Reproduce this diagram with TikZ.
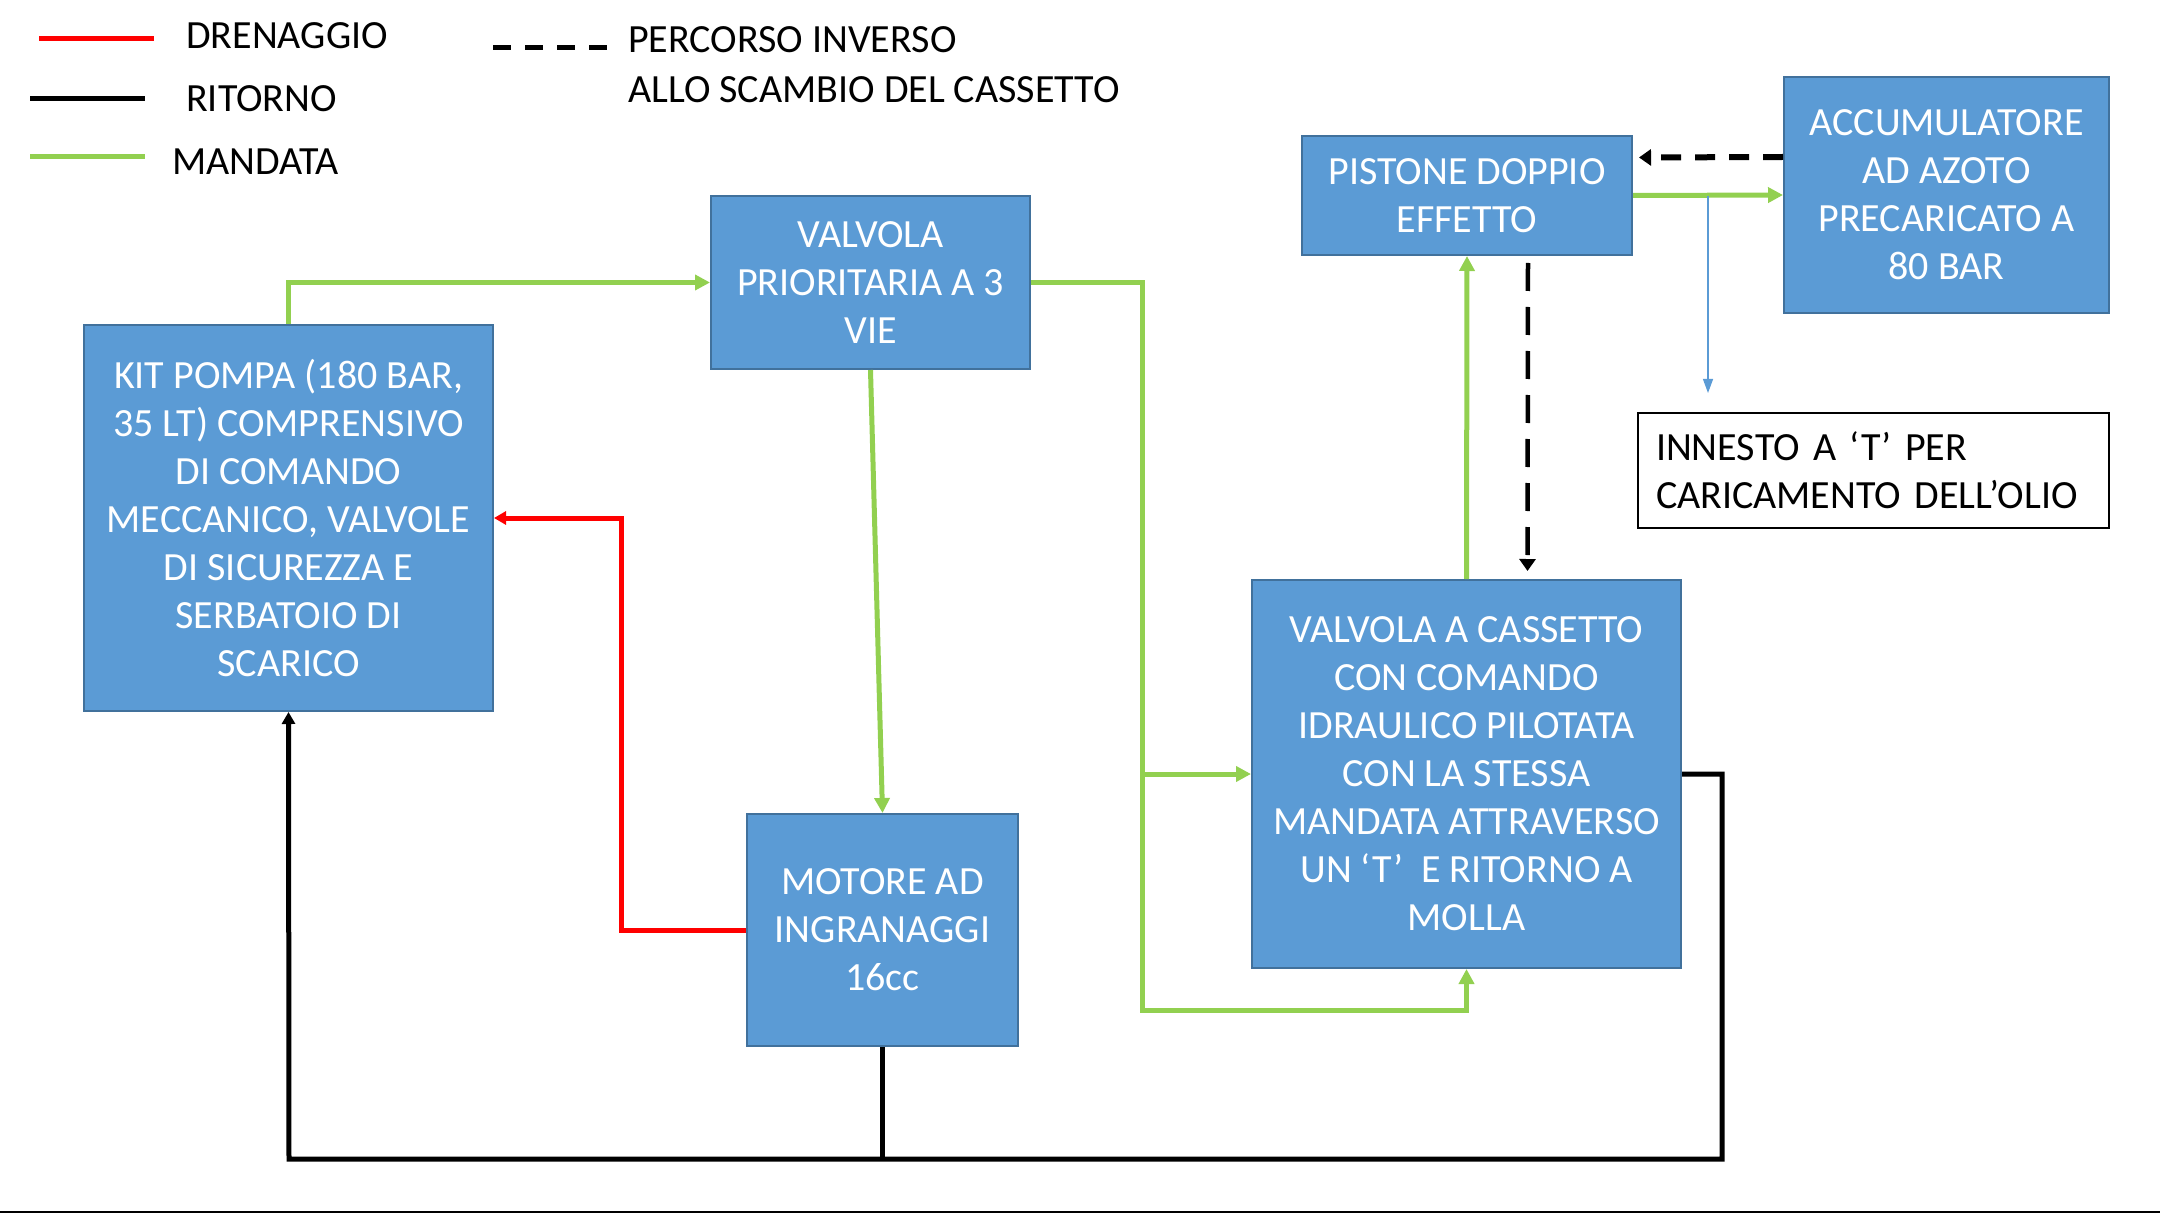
\documentclass[tikz,border=0pt]{standalone}
\usepackage{fontspec}
\setmainfont{Carlito}
\usetikzlibrary{arrows.meta, positioning, calc}
\definecolor{boxBlue}{RGB}{91,155,213}
\definecolor{boxEdge}{RGB}{65,113,156}
\definecolor{lineGreen}{RGB}{146,208,80}
\definecolor{lineRed}{RGB}{255,0,0}

\begin{document}
\begin{tikzpicture}[
				x=1pt, y=-1pt,
				box/.style={draw=boxEdge, line width=2pt, fill=boxBlue, text=white, align=center, inner sep=0pt, font=\fontsize{40}{48}\selectfont},
				notebox/.style={draw, line width=2pt, fill=white, align=left, inner xsep=18pt, inner ysep=0pt, font=\fontsize{40}{48}\selectfont},
				legtext/.style={anchor=west, inner sep=0pt, font=\fontsize{40}{48}\selectfont},
				mandata/.style={-{Triangle[length=15pt,width=15pt]}, line width=5pt, lineGreen},
				ritorno/.style={-{Triangle[length=12pt,width=13pt]}, line width=5pt, black},
				drenaggio/.style={-{Triangle[length=12pt,width=13pt]}, line width=5pt, lineRed},
				inverso/.style={-{Triangle[length=12pt,width=16pt]}, black, dash pattern=on 20pt off 14pt},
				carico/.style={-{Triangle[length=14pt,width=10pt]}, line width=1.2pt, boxBlue}
			]
				\useasboundingbox (0,0) rectangle (2160,1214);

				% legend
				\draw[line width=5pt, lineRed] (39,39) -- (154,39);
				\draw[line width=5pt, black] (30,99) -- (145,99);
				\draw[line width=5pt, lineGreen] (30,157) -- (145,157);
				\draw[line width=5pt, black, dash pattern=on 18pt off 14pt] (493,48) -- (611,48);
				\node[legtext] (legDren) at (186,36) {DRENAGGIO};
				\node[legtext] (legRit) at (186,99) {RITORNO};
				\node[legtext] (legMand) at (172,162) {MANDATA};
				\node[legtext] (legInv) at (628,40) {PERCORSO INVERSO};
				\node[legtext] (legInvB) at (628,90) {ALLO SCAMBIO DEL CASSETTO};

				% components
				\node[box, minimum width=409pt, minimum height=386pt] (kit) at (288.5,518)
					{KIT POMPA (180 BAR,\\35 LT) COMPRENSIVO\\DI COMANDO\\MECCANICO, VALVOLE\\DI SICUREZZA E\\SERBATOIO DI\\SCARICO};
				\node[box, minimum width=319pt, minimum height=173pt] (prio) at (870.5,282.5)
					{VALVOLA\\PRIORITARIA A 3\\VIE};
				\node[box, minimum width=271pt, minimum height=232pt] (motore) at (882.5,930)
					{MOTORE AD\\INGRANAGGI\\16cc};
				\node[box, minimum width=429pt, minimum height=388pt] (cassetto) at (1466.5,774)
					{VALVOLA A CASSETTO\\CON COMANDO\\IDRAULICO PILOTATA\\CON LA STESSA\\MANDATA ATTRAVERSO\\UN ‘T’\ \ E RITORNO A\\MOLLA};
				\node[box, minimum width=330pt, minimum height=119pt] (pistone) at (1467,195.5)
					{PISTONE DOPPIO\\EFFETTO};
				\node[box, minimum width=325pt, minimum height=236pt] (accum) at (1946.5,195)
					{ACCUMULATORE\\AD AZOTO\\PRECARICATO A\\80 BAR};
				\node[notebox, text width=435pt, minimum height=115pt] (innesto) at (1873.5,470.5)
					{INNESTO A ‘T’ PER\\CARICAMENTO DELL’OLIO};

				% junctions
				\coordinate (gbot) at (1142,1010);
				\coordinate (gtee) at (1142,774);
				\coordinate (rc) at (621,518);
				\coordinate (bl) at (289,1159);
				\coordinate (br) at (1722,1159);
				\coordinate (tee) at (1708,196);
				\coordinate (teeEnd) at (1708,393);

				% mandata
				\draw[mandata] (kit.north) |- (prio.west);
				\draw[mandata] (prio.south) -- (motore.north);
				\draw[mandata] (prio.east) -| (gbot) -| (cassetto.south);
				\draw[mandata] (gtee) -- (cassetto.west);
				\draw[mandata] (cassetto.north) -- (pistone.south);
				\draw[mandata] (pistone.east) -- (accum.west);
				\draw[carico] (tee) -- (teeEnd);

				% percorso inverso
				\draw[inverso, line width=6pt, shorten >=6pt] ([yshift=38pt]accum.west) -- ([yshift=38pt]pistone.east);
				\draw[inverso, line width=4.5pt, dash pattern=on 28pt off 16pt, shorten <=7pt, shorten >=8pt] ([xshift=61pt]pistone.south) -- ([xshift=61pt]cassetto.north);

				% drenaggio e ritorno
				\draw[drenaggio] (motore.west) -| (rc) -- (kit.east);
				\draw[ritorno] (cassetto.east) -| (br) -- (bl) -- (kit.south);
				\draw[ritorno, -] (motore.south) -- (motore.south |- bl);

				\draw[line width=2pt] (0,1212) -- (2160,1212);
			\end{tikzpicture}
\end{document}
